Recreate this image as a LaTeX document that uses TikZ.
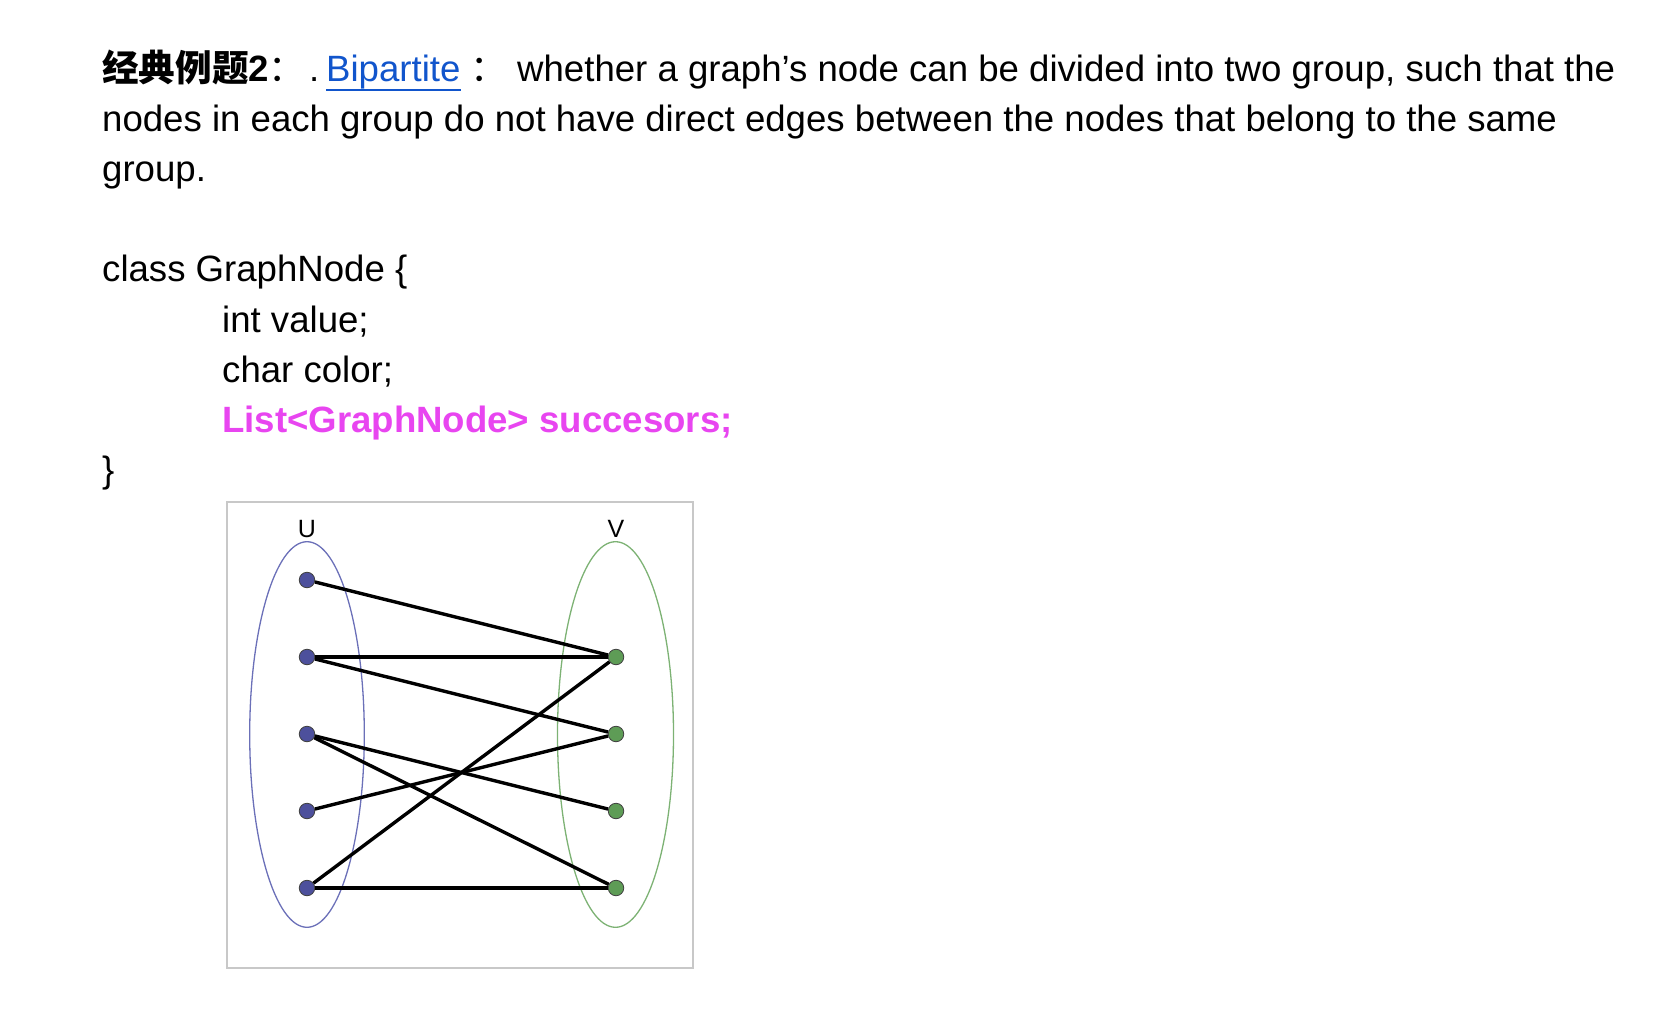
\documentclass[tikz,border=0pt]{standalone}
\usepackage{fontspec}
\setmainfont{Liberation Sans}
\newfontfamily\cjk{Noto Sans CJK SC}
\definecolor{linkblue}{HTML}{1155CC}
\definecolor{magentatext}{HTML}{E845F0}
\definecolor{ufill}{HTML}{4D509C}
\definecolor{vfill}{HTML}{5E9C56}
\definecolor{uring}{HTML}{6B70B8}
\definecolor{vring}{HTML}{7DB274}
\definecolor{boxgray}{HTML}{C8C8C8}
\begin{document}
\begin{tikzpicture}[x=1pt,y=-1pt,
  txt/.style={anchor=base west, inner sep=0pt, font=\fontsize{36.6}{44}\selectfont},
  lbl/.style={anchor=center, inner sep=0pt, font=\fontsize{25}{30}\selectfont},
  unode/.style={circle, draw=black!75, line width=0.8pt, fill=ufill, minimum size=15.5pt, inner sep=0pt},
  vnode/.style={circle, draw=black!75, line width=0.8pt, fill=vfill, minimum size=15.5pt, inner sep=0pt},
  edge/.style={line width=3.4pt, black},
  uset/.style={draw=uring, line width=1.3pt},
  vset/.style={draw=vring, line width=1.3pt}]
\useasboundingbox (0,0) rectangle (1670,1032);
% paragraph
\node[txt] (t1a) at (102,82) {{\cjk\bfseries 经典例题}\textbf{2}{\cjk ：}};
\node[txt] (t1dot) at (309,82) {.};
\node[txt, text=linkblue] (t1link) at (326,82) {Bipartite};
\draw[linkblue, line width=2.6pt] ([yshift=-8pt]t1link.base west) -- ([yshift=-8pt]t1link.base east);
\node[txt] (t1colon) at (470,82) {{\cjk ：}};
\node[txt] (t1b) at (517,82) {whether a graph’s node can be divided into two group, such that the};
\node[txt] (t2) at (102,132) {nodes in each group do not have direct edges between the nodes that belong to the same};
\node[txt] (t3) at (102,182) {group.};
% code
\node[txt] (c1) at (102,282) {class GraphNode \{};
\node[txt] (c2) at (222,332) {int value;};
\node[txt] (c3) at (222,382) {char color;};
\node[txt, text=magentatext, font=\fontsize{36.6}{44}\selectfont\bfseries] (c4) at (222,432) {List<GraphNode> succesors;};
\node[txt] (c5) at (102,482) {\}};
% figure frame
\draw[boxgray, line width=2pt] (227,502) rectangle (693,968);
% group ellipses
\draw[uset] (307,734.5) ellipse [x radius=57.3pt, y radius=192.8pt];
\draw[vset] (615.5,734.5) ellipse [x radius=58pt, y radius=192.8pt];
\node[lbl] (lu) at (307,529) {U};
\node[lbl] (lv) at (616,529) {V};
% vertices
\node[unode] (u1) at (307,580) {};
\node[unode] (u2) at (307,657) {};
\node[unode] (u3) at (307,734) {};
\node[unode] (u4) at (307,811) {};
\node[unode] (u5) at (307,888) {};
\node[vnode] (v1) at (616,657) {};
\node[vnode] (v2) at (616,734) {};
\node[vnode] (v3) at (616,811) {};
\node[vnode] (v5) at (616,888) {};
% edges
\draw[edge] (u1) -- (v1);
\draw[edge] (u2) -- (v1);
\draw[edge] (u2) -- (v2);
\draw[edge] (u3) -- (v3);
\draw[edge] (u3) -- (v5);
\draw[edge] (u4) -- (v2);
\draw[edge] (u5) -- (v1);
\draw[edge] (u5) -- (v5);
\end{tikzpicture}
\end{document}
